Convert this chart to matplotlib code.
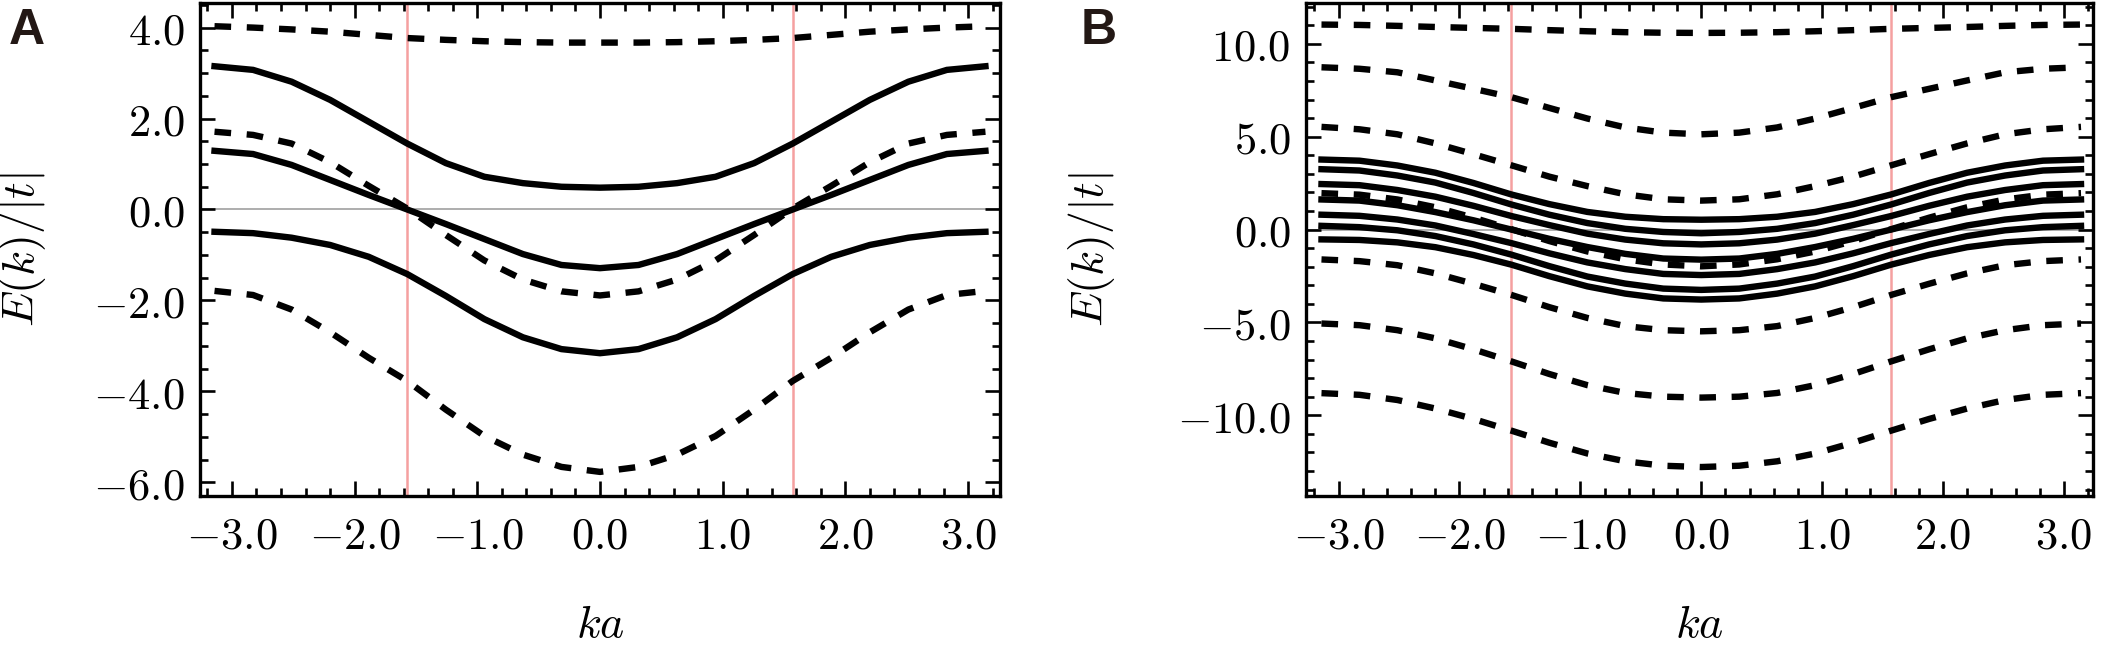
import matplotlib
matplotlib.use("Agg")
import matplotlib.pyplot as plt
from matplotlib.ticker import MultipleLocator, FormatStrFormatter
import numpy as np

plt.rcParams["mathtext.fontset"] = "cm"

# k-grid (ka), 21 samples from -pi to pi
ka = [-3.1416, -2.8274, -2.5133, -2.1991, -1.8850, -1.5708, -1.2566, -0.9425, -0.6283, -0.3142, 0.0,
      0.3142, 0.6283, 0.9425, 1.2566, 1.5708, 1.8850, 2.1991, 2.5133, 2.8274, 3.1416]

# Panel A bands
a_solid = [
    [3.15, 3.07, 2.81, 2.41, 1.93, 1.45, 1.02, 0.72, 0.58, 0.50, 0.48, 0.50, 0.58, 0.72, 1.02, 1.45, 1.93, 2.41, 2.81, 3.07, 3.15],
    [1.29, 1.22, 0.98, 0.65, 0.32, 0.00, -0.32, -0.65, -0.98, -1.22, -1.29, -1.22, -0.98, -0.65, -0.32, 0.00, 0.32, 0.65, 0.98, 1.22, 1.29],
    [-0.49, -0.52, -0.62, -0.78, -1.04, -1.42, -1.90, -2.41, -2.81, -3.07, -3.16, -3.07, -2.81, -2.41, -1.90, -1.42, -1.04, -0.78, -0.62, -0.52, -0.49],
]
a_dashed = [
    [4.03, 4.00, 3.96, 3.91, 3.84, 3.77, 3.73, 3.70, 3.68, 3.67, 3.67, 3.67, 3.68, 3.70, 3.73, 3.77, 3.84, 3.91, 3.96, 4.00, 4.03],
    [1.71, 1.64, 1.45, 1.04, 0.52, 0.02, -0.56, -1.12, -1.54, -1.80, -1.89, -1.80, -1.54, -1.12, -0.56, 0.02, 0.52, 1.04, 1.45, 1.64, 1.71],
    [-1.79, -1.88, -2.20, -2.70, -3.26, -3.77, -4.40, -4.98, -5.39, -5.66, -5.77, -5.66, -5.39, -4.98, -4.40, -3.77, -3.26, -2.70, -2.20, -1.88, -1.79],
]

# Panel B bands
b_solid = [
    [3.77, 3.71, 3.45, 3.06, 2.51, 1.89, 1.37, 0.95, 0.69, 0.56, 0.53, 0.56, 0.69, 0.95, 1.37, 1.89, 2.51, 3.06, 3.45, 3.71, 3.77],
    [3.25, 3.18, 2.91, 2.53, 1.97, 1.35, 0.80, 0.35, 0.04, -0.13, -0.20, -0.13, 0.04, 0.35, 0.80, 1.35, 1.97, 2.53, 2.91, 3.18, 3.25],
    [2.45, 2.39, 2.13, 1.77, 1.28, 0.73, 0.24, -0.22, -0.54, -0.74, -0.80, -0.74, -0.54, -0.22, 0.24, 0.73, 1.28, 1.77, 2.13, 2.39, 2.45],
    [1.62, 1.56, 1.31, 0.94, 0.50, 0.00, -0.50, -0.94, -1.31, -1.56, -1.62, -1.56, -1.31, -0.94, -0.50, 0.00, 0.50, 0.94, 1.31, 1.56, 1.62],
    [0.80, 0.74, 0.54, 0.22, -0.24, -0.73, -1.28, -1.77, -2.13, -2.39, -2.45, -2.39, -2.13, -1.77, -1.28, -0.73, -0.24, 0.22, 0.54, 0.74, 0.80],
    [0.20, 0.13, -0.04, -0.35, -0.80, -1.35, -1.97, -2.53, -2.91, -3.18, -3.25, -3.18, -2.91, -2.53, -1.97, -1.35, -0.80, -0.35, -0.04, 0.13, 0.20],
    [-0.53, -0.56, -0.69, -0.95, -1.37, -1.89, -2.51, -3.06, -3.45, -3.71, -3.77, -3.71, -3.45, -3.06, -2.51, -1.89, -1.37, -0.95, -0.69, -0.56, -0.53],
]
b_dashed = [
    [11.04, 11.02, 10.97, 10.91, 10.86, 10.81, 10.74, 10.68, 10.63, 10.60, 10.59, 10.60, 10.63, 10.68, 10.74, 10.81, 10.86, 10.91, 10.97, 11.02, 11.04],
    [8.74, 8.66, 8.47, 8.03, 7.58, 7.13, 6.55, 5.98, 5.50, 5.22, 5.13, 5.22, 5.50, 5.98, 6.55, 7.13, 7.58, 8.03, 8.47, 8.66, 8.74],
    [5.53, 5.40, 5.13, 4.64, 4.06, 3.46, 2.85, 2.34, 1.90, 1.63, 1.56, 1.63, 1.90, 2.34, 2.85, 3.46, 4.06, 4.64, 5.13, 5.40, 5.53],
    [1.96, 1.88, 1.62, 1.20, 0.64, 0.02, -0.62, -1.18, -1.60, -1.88, -1.98, -1.88, -1.60, -1.18, -0.62, 0.02, 0.64, 1.20, 1.62, 1.88, 1.96],
    [-1.61, -1.70, -1.92, -2.36, -2.92, -3.52, -4.18, -4.76, -5.20, -5.42, -5.48, -5.42, -5.20, -4.76, -4.18, -3.52, -2.92, -2.36, -1.92, -1.70, -1.61],
    [-5.06, -5.15, -5.42, -5.86, -6.45, -7.10, -7.78, -8.38, -8.80, -9.00, -9.05, -9.00, -8.80, -8.38, -7.78, -7.10, -6.45, -5.86, -5.42, -5.15, -5.06],
    [-8.81, -8.90, -9.18, -9.64, -10.20, -10.83, -11.48, -12.06, -12.48, -12.72, -12.79, -12.72, -12.48, -12.06, -11.48, -10.83, -10.20, -9.64, -9.18, -8.90, -8.81],
]

brillouin = [-np.pi / 2, np.pi / 2]

LW = 4.6
DASH = (0, (2.6, 2.45))


def draw_panel(ax, solids, dashes, ylim, xlim, ymaj, ymin):
    ax.axhline(0, color="#a0a0a0", lw=1.2, zorder=1)
    for xv in brillouin:
        ax.axvline(xv, color="#f5a0a0", lw=1.8, zorder=1)
    for y in dashes:
        ax.plot(ka, y, color="black", lw=LW, linestyle=DASH, zorder=3)
    for y in solids:
        ax.plot(ka, y, color="black", lw=LW, solid_joinstyle="miter", zorder=3)
    ax.set_xlim(*xlim)
    ax.set_ylim(*ylim)
    ax.xaxis.set_major_locator(MultipleLocator(1.0))
    ax.xaxis.set_minor_locator(MultipleLocator(0.2))
    ax.yaxis.set_major_locator(MultipleLocator(ymaj))
    ax.yaxis.set_minor_locator(MultipleLocator(ymin))
    ax.xaxis.set_major_formatter(FormatStrFormatter("$%.1f$"))
    ax.yaxis.set_major_formatter(FormatStrFormatter("$%.1f$"))
    ax.tick_params(which="both", direction="in", top=True, right=True, width=1.9)
    ax.tick_params(which="major", length=11, labelsize=32)
    ax.tick_params(which="minor", length=6)
    ax.tick_params(axis="x", pad=13)
    ax.tick_params(axis="y", pad=11)
    for s in ax.spines.values():
        s.set_linewidth(2.4)
    ax.set_xlabel("$ka$", fontsize=33)
    ax.set_ylabel("$E(k)/|t|$", fontsize=33)


fig = plt.figure(figsize=(21.03, 6.45), dpi=100)
axA = fig.add_axes([0.0951, 0.2310, 0.3804, 0.7643])
axB = fig.add_axes([0.6210, 0.2310, 0.3742, 0.7643])

draw_panel(axA, a_solid, a_dashed, (-6.3, 4.54), (-3.26, 3.26), 2.0, 0.5)
draw_panel(axB, b_solid, b_dashed, (-14.35, 12.2), (-3.27, 3.24), 5.0, 1.0)

axA.xaxis.set_label_coords(0.5, -0.215)
axB.xaxis.set_label_coords(0.5, -0.215)
axA.yaxis.set_label_coords(-0.19, 0.5)
axB.yaxis.set_label_coords(-0.24, 0.5)

fig.text(9 / 2103, 1 - 8 / 645, "A", ha="left", va="top", fontsize=36,
         fontweight="bold", color="#231815", family="Liberation Sans")
fig.text(1081 / 2103, 1 - 8 / 645, "B", ha="left", va="top", fontsize=36,
         fontweight="bold", color="#231815", family="Liberation Sans")

fig.savefig("out.png", dpi=100)
